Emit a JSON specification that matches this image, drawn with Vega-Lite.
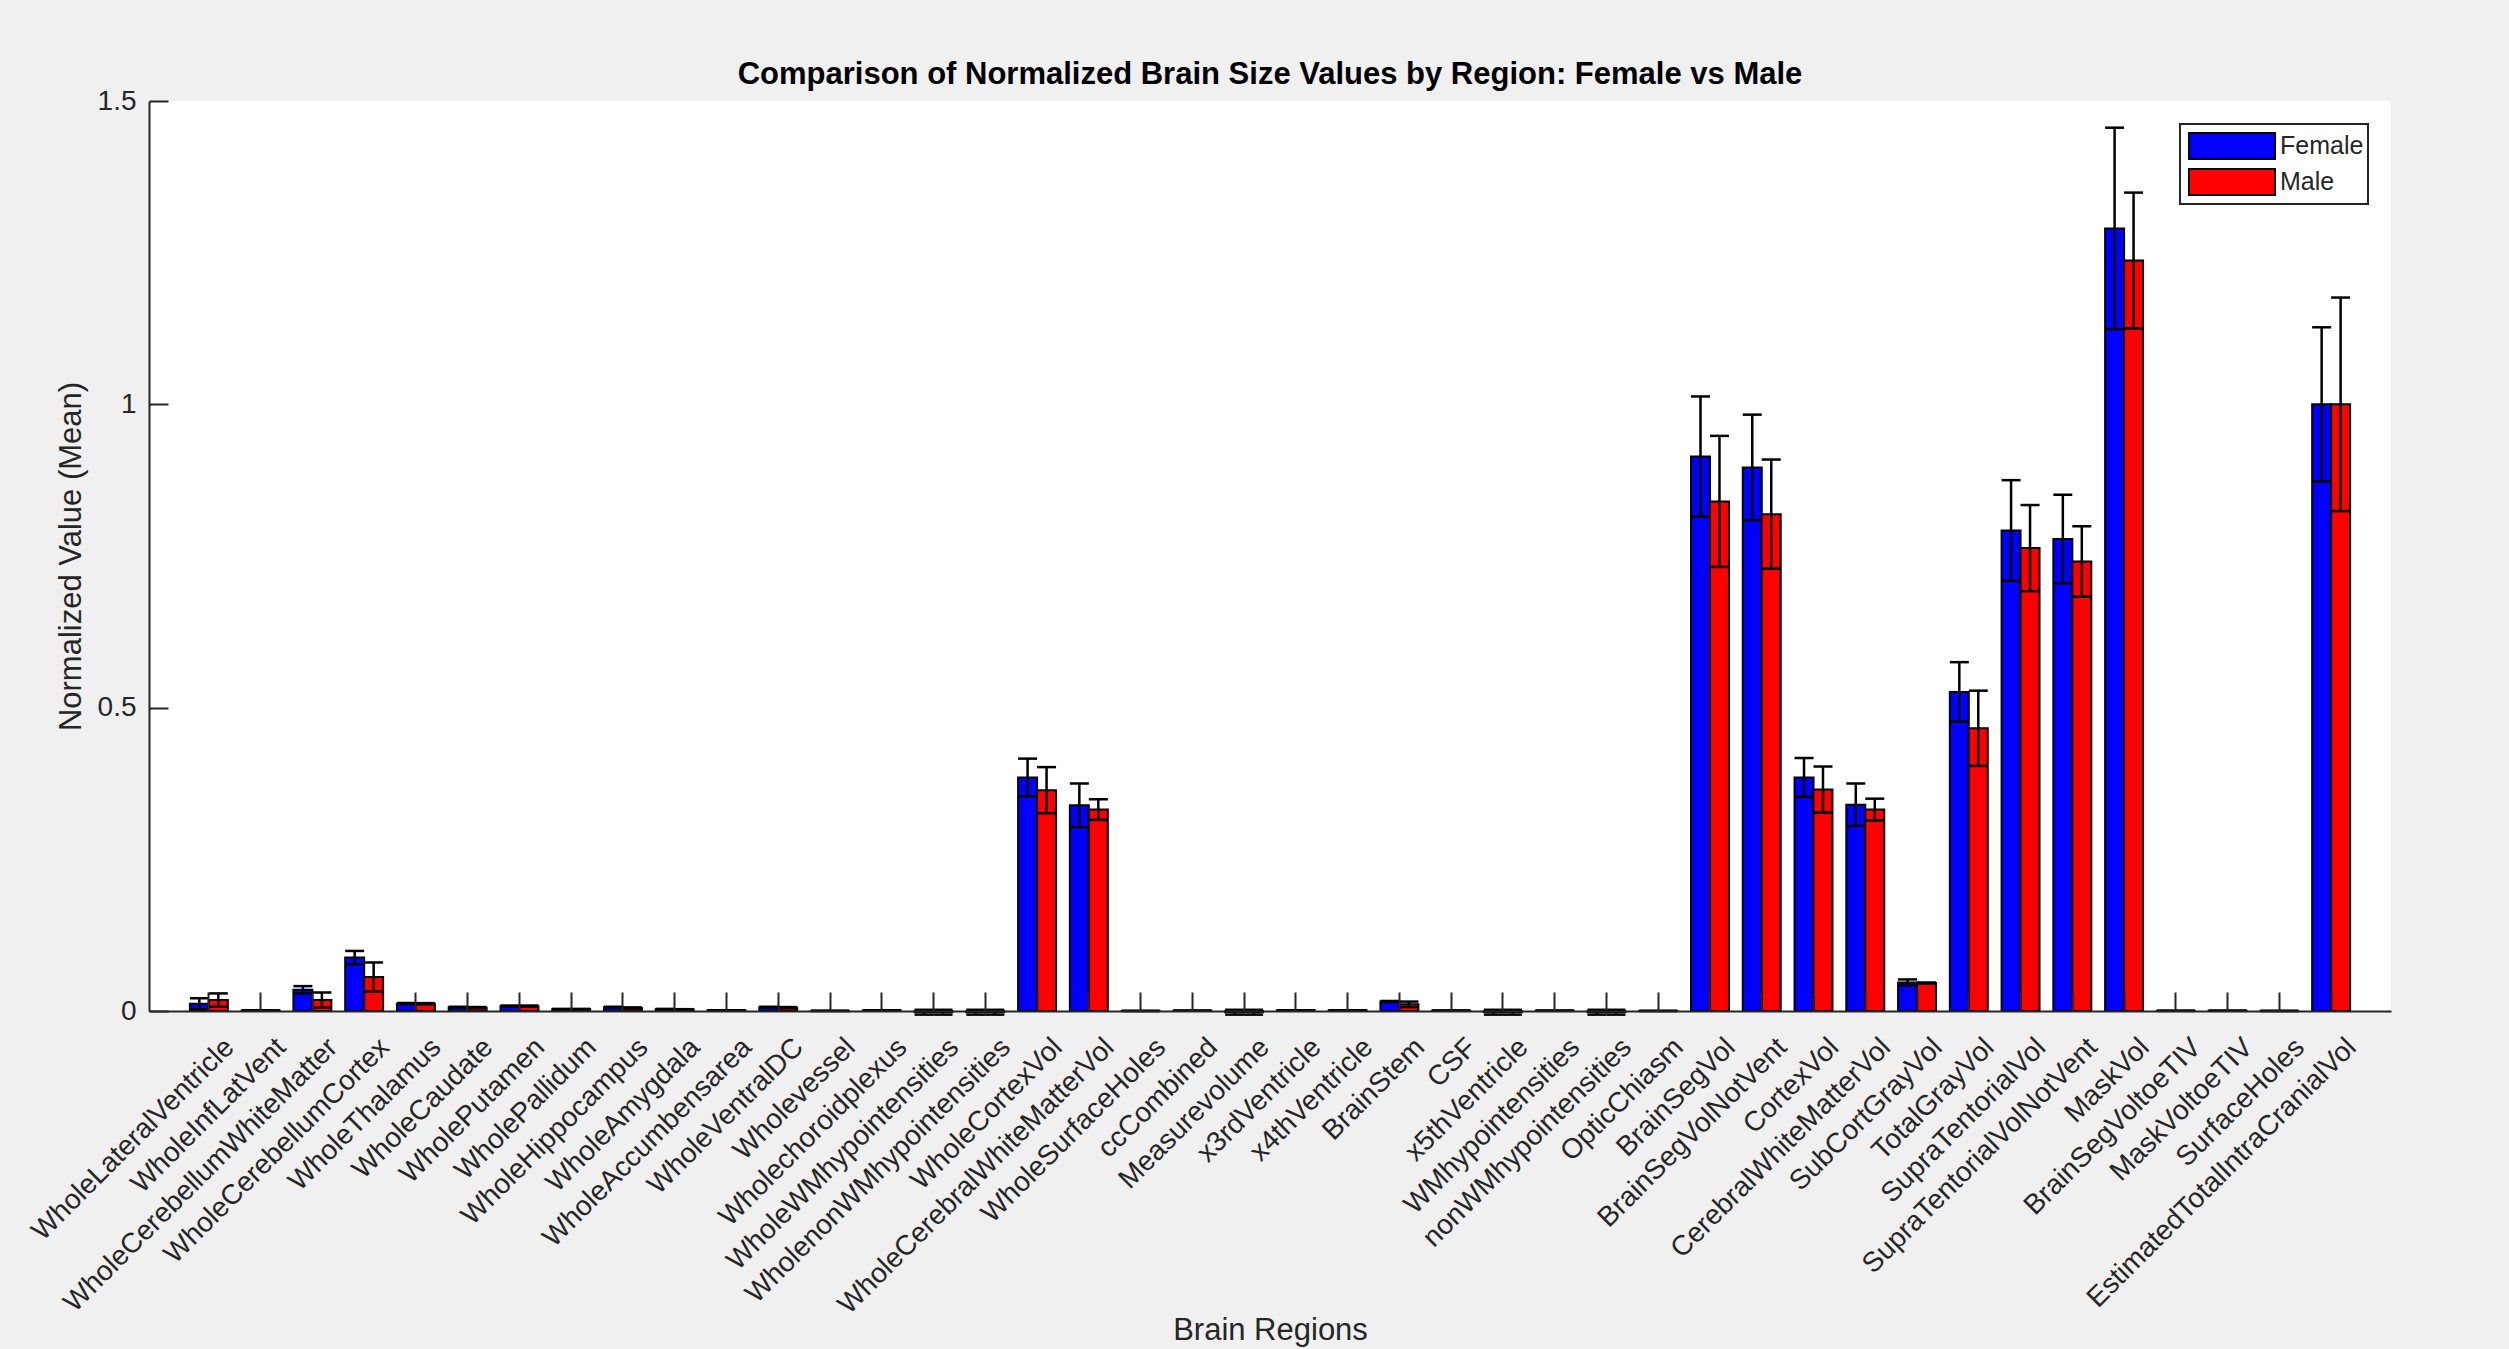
{
  "$schema": "https://vega.github.io/schema/vega-lite/v6.json",
  "background": "#f0f0f0",
  "autosize": {"type": "none"},
  "padding": {"left": 149, "top": 101, "right": 118, "bottom": 338},
  "width": 2242,
  "height": 910,
  "title": {"text": "Comparison of Normalized Brain Size Values by Region: Female vs Male", "fontSize": 31, "fontWeight": "bold", "font": "Liberation Sans", "color": "#000000", "offset": -4, "frame": "group", "anchor": "middle"},
  "data": {"values": [
    {"region": "WholeLateralVentricle", "sex": "Female", "mean": 0.012, "lo": 0.003, "hi": 0.021},
    {"region": "WholeLateralVentricle", "sex": "Male", "mean": 0.018, "lo": 0.007, "hi": 0.029},
    {"region": "WholeInfLatVent", "sex": "Female", "mean": 0.0008, "lo": 0.0005, "hi": 0.0011},
    {"region": "WholeInfLatVent", "sex": "Male", "mean": 0.0007, "lo": 0.0004, "hi": 0.001},
    {"region": "WholeCerebellumWhiteMatter", "sex": "Female", "mean": 0.035, "lo": 0.029, "hi": 0.041},
    {"region": "WholeCerebellumWhiteMatter", "sex": "Male", "mean": 0.018, "lo": 0.0055, "hi": 0.0305},
    {"region": "WholeCerebellumCortex", "sex": "Female", "mean": 0.088, "lo": 0.077, "hi": 0.099},
    {"region": "WholeCerebellumCortex", "sex": "Male", "mean": 0.056, "lo": 0.032, "hi": 0.08},
    {"region": "WholeThalamus", "sex": "Female", "mean": 0.012, "lo": 0.011, "hi": 0.013},
    {"region": "WholeThalamus", "sex": "Male", "mean": 0.012, "lo": 0.011, "hi": 0.013},
    {"region": "WholeCaudate", "sex": "Female", "mean": 0.006, "lo": 0.005, "hi": 0.007},
    {"region": "WholeCaudate", "sex": "Male", "mean": 0.0055, "lo": 0.0045, "hi": 0.0065},
    {"region": "WholePutamen", "sex": "Female", "mean": 0.008, "lo": 0.007, "hi": 0.009},
    {"region": "WholePutamen", "sex": "Male", "mean": 0.008, "lo": 0.007, "hi": 0.009},
    {"region": "WholePallidum", "sex": "Female", "mean": 0.003, "lo": 0.0025, "hi": 0.0035},
    {"region": "WholePallidum", "sex": "Male", "mean": 0.003, "lo": 0.0025, "hi": 0.0035},
    {"region": "WholeHippocampus", "sex": "Female", "mean": 0.006, "lo": 0.005, "hi": 0.007},
    {"region": "WholeHippocampus", "sex": "Male", "mean": 0.005, "lo": 0.004, "hi": 0.006},
    {"region": "WholeAmygdala", "sex": "Female", "mean": 0.003, "lo": 0.0025, "hi": 0.0035},
    {"region": "WholeAmygdala", "sex": "Male", "mean": 0.0025, "lo": 0.002, "hi": 0.003},
    {"region": "WholeAccumbensarea", "sex": "Female", "mean": 0.001, "lo": 0.0008, "hi": 0.0012},
    {"region": "WholeAccumbensarea", "sex": "Male", "mean": 0.001, "lo": 0.0008, "hi": 0.0012},
    {"region": "WholeVentralDC", "sex": "Female", "mean": 0.006, "lo": 0.005, "hi": 0.007},
    {"region": "WholeVentralDC", "sex": "Male", "mean": 0.0055, "lo": 0.0045, "hi": 0.0065},
    {"region": "Wholevessel", "sex": "Female", "mean": 0.0002, "lo": 0.0001, "hi": 0.0003},
    {"region": "Wholevessel", "sex": "Male", "mean": 0.0002, "lo": 0.0001, "hi": 0.0003},
    {"region": "Wholechoroidplexus", "sex": "Female", "mean": 0.0008, "lo": 0.0006, "hi": 0.001},
    {"region": "Wholechoroidplexus", "sex": "Male", "mean": 0.0008, "lo": 0.0006, "hi": 0.001},
    {"region": "WholeWMhypointensities", "sex": "Female", "mean": -0.002, "lo": -0.006, "hi": 0.002},
    {"region": "WholeWMhypointensities", "sex": "Male", "mean": -0.002, "lo": -0.006, "hi": 0.002},
    {"region": "WholenonWMhypointensities", "sex": "Female", "mean": -0.002, "lo": -0.006, "hi": 0.002},
    {"region": "WholenonWMhypointensities", "sex": "Male", "mean": -0.002, "lo": -0.006, "hi": 0.002},
    {"region": "WholeCortexVol", "sex": "Female", "mean": 0.385, "lo": 0.354, "hi": 0.416},
    {"region": "WholeCortexVol", "sex": "Male", "mean": 0.364, "lo": 0.326, "hi": 0.402},
    {"region": "WholeCerebralWhiteMatterVol", "sex": "Female", "mean": 0.339, "lo": 0.303, "hi": 0.375},
    {"region": "WholeCerebralWhiteMatterVol", "sex": "Male", "mean": 0.332, "lo": 0.315, "hi": 0.349},
    {"region": "WholeSurfaceHoles", "sex": "Female", "mean": 0.0001, "lo": 0.0, "hi": 0.0002},
    {"region": "WholeSurfaceHoles", "sex": "Male", "mean": 0.0001, "lo": 0.0, "hi": 0.0002},
    {"region": "ccCombined", "sex": "Female", "mean": 0.0005, "lo": 0.0004, "hi": 0.0006},
    {"region": "ccCombined", "sex": "Male", "mean": 0.0005, "lo": 0.0004, "hi": 0.0006},
    {"region": "Measurevolume", "sex": "Female", "mean": -0.002, "lo": -0.006, "hi": 0.002},
    {"region": "Measurevolume", "sex": "Male", "mean": -0.002, "lo": -0.006, "hi": 0.002},
    {"region": "x3rdVentricle", "sex": "Female", "mean": 0.001, "lo": 0.0008, "hi": 0.0012},
    {"region": "x3rdVentricle", "sex": "Male", "mean": 0.001, "lo": 0.0008, "hi": 0.0012},
    {"region": "x4thVentricle", "sex": "Female", "mean": 0.001, "lo": 0.0008, "hi": 0.0012},
    {"region": "x4thVentricle", "sex": "Male", "mean": 0.001, "lo": 0.0008, "hi": 0.0012},
    {"region": "BrainStem", "sex": "Female", "mean": 0.0155, "lo": 0.0145, "hi": 0.0165},
    {"region": "BrainStem", "sex": "Male", "mean": 0.011, "lo": 0.0065, "hi": 0.0155},
    {"region": "CSF", "sex": "Female", "mean": 0.0006, "lo": 0.0005, "hi": 0.0007},
    {"region": "CSF", "sex": "Male", "mean": 0.0006, "lo": 0.0005, "hi": 0.0007},
    {"region": "x5thVentricle", "sex": "Female", "mean": -0.002, "lo": -0.006, "hi": 0.002},
    {"region": "x5thVentricle", "sex": "Male", "mean": -0.002, "lo": -0.006, "hi": 0.002},
    {"region": "WMhypointensities", "sex": "Female", "mean": 0.0005, "lo": 0.0003, "hi": 0.0007},
    {"region": "WMhypointensities", "sex": "Male", "mean": 0.0005, "lo": 0.0003, "hi": 0.0007},
    {"region": "nonWMhypointensities", "sex": "Female", "mean": -0.002, "lo": -0.006, "hi": 0.002},
    {"region": "nonWMhypointensities", "sex": "Male", "mean": -0.002, "lo": -0.006, "hi": 0.002},
    {"region": "OpticChiasm", "sex": "Female", "mean": 0.0001, "lo": 0.0, "hi": 0.0002},
    {"region": "OpticChiasm", "sex": "Male", "mean": 0.0001, "lo": 0.0, "hi": 0.0002},
    {"region": "BrainSegVol", "sex": "Female", "mean": 0.914, "lo": 0.815, "hi": 1.013},
    {"region": "BrainSegVol", "sex": "Male", "mean": 0.84, "lo": 0.732, "hi": 0.948},
    {"region": "BrainSegVolNotVent", "sex": "Female", "mean": 0.896, "lo": 0.809, "hi": 0.983},
    {"region": "BrainSegVolNotVent", "sex": "Male", "mean": 0.819, "lo": 0.729, "hi": 0.909},
    {"region": "CortexVol", "sex": "Female", "mean": 0.385, "lo": 0.353, "hi": 0.417},
    {"region": "CortexVol", "sex": "Male", "mean": 0.365, "lo": 0.327, "hi": 0.403},
    {"region": "CerebralWhiteMatterVol", "sex": "Female", "mean": 0.34, "lo": 0.305, "hi": 0.375},
    {"region": "CerebralWhiteMatterVol", "sex": "Male", "mean": 0.332, "lo": 0.314, "hi": 0.35},
    {"region": "SubCortGrayVol", "sex": "Female", "mean": 0.047, "lo": 0.042, "hi": 0.052},
    {"region": "SubCortGrayVol", "sex": "Male", "mean": 0.046, "lo": 0.045, "hi": 0.047},
    {"region": "TotalGrayVol", "sex": "Female", "mean": 0.526, "lo": 0.477, "hi": 0.575},
    {"region": "TotalGrayVol", "sex": "Male", "mean": 0.466, "lo": 0.404, "hi": 0.528},
    {"region": "SupraTentorialVol", "sex": "Female", "mean": 0.792, "lo": 0.709, "hi": 0.875},
    {"region": "SupraTentorialVol", "sex": "Male", "mean": 0.763, "lo": 0.692, "hi": 0.834},
    {"region": "SupraTentorialVolNotVent", "sex": "Female", "mean": 0.778, "lo": 0.705, "hi": 0.851},
    {"region": "SupraTentorialVolNotVent", "sex": "Male", "mean": 0.741, "lo": 0.683, "hi": 0.799},
    {"region": "MaskVol", "sex": "Female", "mean": 1.29, "lo": 1.124, "hi": 1.456},
    {"region": "MaskVol", "sex": "Male", "mean": 1.237, "lo": 1.125, "hi": 1.349},
    {"region": "BrainSegVoltoeTIV", "sex": "Female", "mean": 0.0003, "lo": 0.0002, "hi": 0.0004},
    {"region": "BrainSegVoltoeTIV", "sex": "Male", "mean": 0.0003, "lo": 0.0002, "hi": 0.0004},
    {"region": "MaskVoltoeTIV", "sex": "Female", "mean": 0.0004, "lo": 0.0003, "hi": 0.0005},
    {"region": "MaskVoltoeTIV", "sex": "Male", "mean": 0.0004, "lo": 0.0003, "hi": 0.0005},
    {"region": "SurfaceHoles", "sex": "Female", "mean": 0.0001, "lo": 0.0, "hi": 0.0002},
    {"region": "SurfaceHoles", "sex": "Male", "mean": 0.0001, "lo": 0.0, "hi": 0.0002},
    {"region": "EstimatedTotalIntraCranialVol", "sex": "Female", "mean": 1.0, "lo": 0.873, "hi": 1.127},
    {"region": "EstimatedTotalIntraCranialVol", "sex": "Male", "mean": 1.0, "lo": 0.824, "hi": 1.176}
  ]},
  "encoding": {
    "x": {
      "field": "region", "type": "nominal", "sort": null,
      "scale": {"paddingInner": 0.267, "paddingOuter": 0.79},
      "axis": {
        "title": "Brain Regions", "labelAngle": -45, "labelAlign": "right", "labelBaseline": "top",
        "labelFontSize": 28, "labelOffset": 11, "labelPadding": 41, "labelLimit": 1000, "labelOverlap": false,
        "tickSize": -19, "tickWidth": 2, "tickColor": "#262626", "domainColor": "#262626", "domainWidth": 2,
        "labelColor": "#262626", "titleColor": "#262626", "titleFontSize": 31, "titleFontWeight": "normal",
        "titleY": 304, "titleBaseline": "top", "zindex": 1
      }
    },
    "xOffset": {"field": "sex", "type": "nominal", "sort": ["Female", "Male"], "scale": {"paddingInner": 0, "paddingOuter": 0}}
  },
  "layer": [
    {
      "mark": {"type": "bar", "stroke": "#000000", "strokeWidth": 2},
      "encoding": {
        "y": {
          "field": "mean", "type": "quantitative", "title": "Normalized Value (Mean)",
          "scale": {"domain": [0, 1.5], "nice": false, "zero": false},
          "axis": {
            "values": [0, 0.5, 1, 1.5], "labelExpr": "'' + datum.value", "grid": false,
            "tickSize": -19, "tickWidth": 2, "tickColor": "#262626", "domainColor": "#262626", "domainWidth": 2,
            "labelFontSize": 28, "labelPadding": 32, "labelColor": "#262626", "titleColor": "#262626",
            "titleFontSize": 31, "titleFontWeight": "normal", "titlePadding": 10, "zindex": 1
          }
        },
        "color": {
          "field": "sex", "type": "nominal",
          "scale": {"domain": ["Female", "Male"], "range": ["#0000ff", "#ff0000"]},
          "legend": {
            "title": null, "orient": "top-right", "offset": 23,
            "fillColor": "#ffffff", "strokeColor": "#262626", "padding": 4,
            "symbolType": "M-2.53,-0.765L2.53,-0.765L2.53,0.765L-2.53,0.765Z", "symbolSize": 1156,
            "symbolStrokeColor": "#000000", "symbolStrokeWidth": 2, "symbolOpacity": 1,
            "symbolOffset": 30, "labelOffset": 30, "labelFontSize": 25, "labelColor": "#262626", "rowPadding": 0
          }
        }
      }
    },
    {
      "mark": {"type": "rule", "color": "#000000", "strokeWidth": 2.5},
      "encoding": {
        "y": {"field": "lo", "type": "quantitative", "title": "Normalized Value (Mean)"},
        "y2": {"field": "hi"}
      }
    },
    {
      "mark": {"type": "tick", "color": "#000000", "size": 19, "thickness": 2.5, "opacity": 1},
      "encoding": {"y": {"field": "lo", "type": "quantitative", "title": "Normalized Value (Mean)"}}
    },
    {
      "mark": {"type": "tick", "color": "#000000", "size": 19, "thickness": 2.5, "opacity": 1},
      "encoding": {"y": {"field": "hi", "type": "quantitative", "title": "Normalized Value (Mean)"}}
    }
  ],
  "config": {
    "font": "Liberation Sans",
    "view": {"fill": "#ffffff", "stroke": null},
    "legend": {"strokeWidth": 2}
  }
}
